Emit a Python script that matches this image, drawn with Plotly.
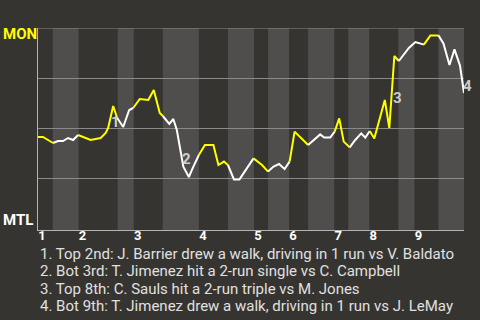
import plotly.graph_objects as go

# Half-inning boundaries (event index); even intervals = top halves, odd = bottom halves
half_bounds = [0, 2.95, 8.1, 15.9, 19.1, 24.9, 32.1, 37.9, 43.1, 45.9, 50.1,
               53.9, 59.1, 61.9, 66.1, 71.9, 75.1, 79.9, 85]
inning_labels = ["1", "2", "3", "4", "5", "6", "7", "8", "9"]

# Win probability for MON (%) at each event; team = colour of segment arriving at the point
ev_x = [0, 1, 2, 3, 4, 5, 6, 7, 8, 9.5, 10.5, 11.5, 12.5, 13.5, 14, 15, 15.8,
        17, 18.2, 19, 20.3, 22, 23.1, 24.3, 24.9, 25.3, 26.2, 27, 27.7, 29, 30.1, 31, 32.1,
        33.3, 35, 36, 37.1, 37.9, 39.1, 40.2, 41.3, 43, 44.7, 45.9, 47, 48.1, 49.2, 50.2,
        51.2, 53.9, 56.3, 57.1, 58.3, 59.2, 60.1, 61, 62.2, 63.3, 64.5, 65.3, 66.2,
        67.1, 69.2, 70.1, 71.1, 72, 73, 74, 75.3, 76.2, 77, 78.3, 79.9,
        80.9, 82.1, 83.1, 84.2, 85]
ev_p = [45.5, 45.5, 44, 42.5, 43.5, 43.5, 45, 44, 46.5, 45, 44, 44.5, 45, 47.5, 50, 61, 55,
        50.5, 59, 60, 64.5, 64, 69, 57.5, 56, 54.7, 52, 54.5, 49, 30.7, 25.5, 30.7, 36.5,
        41.5, 41.5, 31.5, 33.2, 31.5, 24.3, 24.3, 28.3, 34.8, 31.5, 28.2, 30.7, 32, 29.5, 33.2,
        48.2, 41.5, 46.8, 45.2, 45.2, 48.2, 54.8, 43.2, 40.3, 44, 47.3, 45.2, 48.5,
        44.8, 64, 50, 86, 83.5, 86.7, 90, 93, 92.2, 91.7, 96.3, 96.3,
        92.3, 81.5, 89.3, 81.2, 67.5]
ev_team = ["MON", "MON", "MON", "MON", "MTL", "MTL", "MTL", "MTL", "MTL", "MON", "MON", "MON",
           "MON", "MON", "MON", "MON", "MON",
           "MTL", "MTL", "MTL", "MON", "MON", "MON", "MON", "MON", "MTL", "MTL", "MTL", "MTL",
           "MTL", "MTL", "MTL", "MTL",
           "MON", "MON", "MON", "MON", "MON", "MTL", "MTL", "MTL", "MTL", "MON", "MON", "MTL",
           "MTL", "MTL", "MTL",
           "MON", "MON", "MTL", "MTL", "MTL", "MTL", "MON", "MON", "MON", "MTL", "MTL", "MTL",
           "MTL",
           "MON", "MON", "MON", "MON", "MON", "MTL", "MTL", "MTL", "MTL", "MTL", "MON", "MON",
           "MTL", "MTL", "MTL", "MTL", "MTL"]

# Key plays
key_labels = ["1", "2", "3", "4"]
key_x = [15.5, 29.7, 71.8, 85.7]
key_p = [53, 34.3, 65, 71]
key_text = [
    "1. Top 2nd: J. Barrier drew a walk, driving in 1 run vs V. Baldato",
    "2. Bot 3rd: T. Jimenez hit a 2-run single vs C. Campbell",
    "3. Top 8th: C. Sauls hit a 2-run triple vs M. Jones",
    "4. Bot 9th: T. Jimenez drew a walk, driving in 1 run vs J. LeMay",
]

X_MAX = 85
Y_MIN, Y_MAX = -1, 100

team_color = {"MON": "#ffff00", "MTL": "#ffffff"}
BG = "#363430"
STRIPE = "#4f4e4d"
GRID = "#8a8a8a"
AXIS = "#b4b4b4"

fig = go.Figure()

# coloured line segments (runs of same team)
i = 1
while i < len(ev_x):
    team = ev_team[i]
    j = i
    while j + 1 < len(ev_x) and ev_team[j + 1] == team:
        j += 1
    xs = ev_x[i - 1:j + 1]
    ys = ev_p[i - 1:j + 1]
    fig.add_trace(go.Scatter(x=xs, y=ys, mode="lines",
                             line=dict(color=team_color[team], width=2),
                             hoverinfo="skip", showlegend=False))
    i = j + 1

shapes = []
for k in range(1, len(half_bounds) - 1, 2):
    shapes.append(dict(type="rect", xref="x", yref="y",
                       x0=half_bounds[k], x1=half_bounds[k + 1], y0=Y_MIN, y1=Y_MAX,
                       fillcolor=STRIPE, line=dict(width=0), layer="below"))
shapes.append(dict(type="line", xref="x", yref="y", x0=0, x1=X_MAX, y0=Y_MAX, y1=Y_MAX,
                   line=dict(color=GRID, width=1.2), layer="above"))

tickvals = [half_bounds[k] + 0.8 for k in range(0, len(half_bounds) - 1, 2)]

annotations = []
for lab, x, y in zip(key_labels, key_x, key_p):
    # paper coordinates so labels just past the axis end are not hidden
    annotations.append(dict(x=x / X_MAX, y=(y - Y_MIN) / (Y_MAX - Y_MIN),
                            xref="paper", yref="paper", xanchor="center", yanchor="middle",
                            text="<b>" + lab + "</b>", showarrow=False,
                            font=dict(family="Roboto", size=15, color="#dddddd"),
                            opacity=0.9))

cap_y = [253.8, 271.2, 288.8, 306.3]
for t, yp in zip(key_text, cap_y):
    annotations.append(dict(x=0, y=(230 - yp) / 202, xref="paper", yref="paper",
                            xanchor="left", yanchor="middle", text=t, showarrow=False,
                            font=dict(family="Roboto", size=15, color="#e0e0e0")))

annotations.append(dict(x=-38 / 426 + 0.002, y=(230 - 33.5) / 202, xref="paper", yref="paper",
                        xanchor="left", yanchor="middle", text="<b>MON</b>", showarrow=False,
                        font=dict(family="Roboto", size=15, color="#ffff00")))
annotations.append(dict(x=-38 / 426 + 0.002, y=(230 - 219.5) / 202, xref="paper", yref="paper",
                        xanchor="left", yanchor="middle", text="<b>MTL</b>", showarrow=False,
                        font=dict(family="Roboto", size=15, color="#ffffff")))

fig.update_layout(
    width=480, height=320,
    margin=dict(l=38, r=16, t=28, b=90),
    paper_bgcolor=BG, plot_bgcolor=BG,
    shapes=shapes, annotations=annotations,
    xaxis=dict(range=[0, X_MAX], showgrid=False, zeroline=False, showline=True,
               linecolor=AXIS, linewidth=1.2, tickvals=tickvals,
               ticktext=["<b>" + s + "</b>" for s in inning_labels],
               ticks="", ticklabelstandoff=-7,
               tickfont=dict(family="Roboto", size=13, color="#ffffff")),
    yaxis=dict(range=[Y_MIN, Y_MAX], tickvals=[25, 50, 75], showticklabels=False,
               showgrid=True, gridcolor=GRID, gridwidth=1.2, zeroline=False,
               showline=True, linecolor=AXIS, linewidth=1.2, ticks=""),
)

fig.write_html("out.html")
